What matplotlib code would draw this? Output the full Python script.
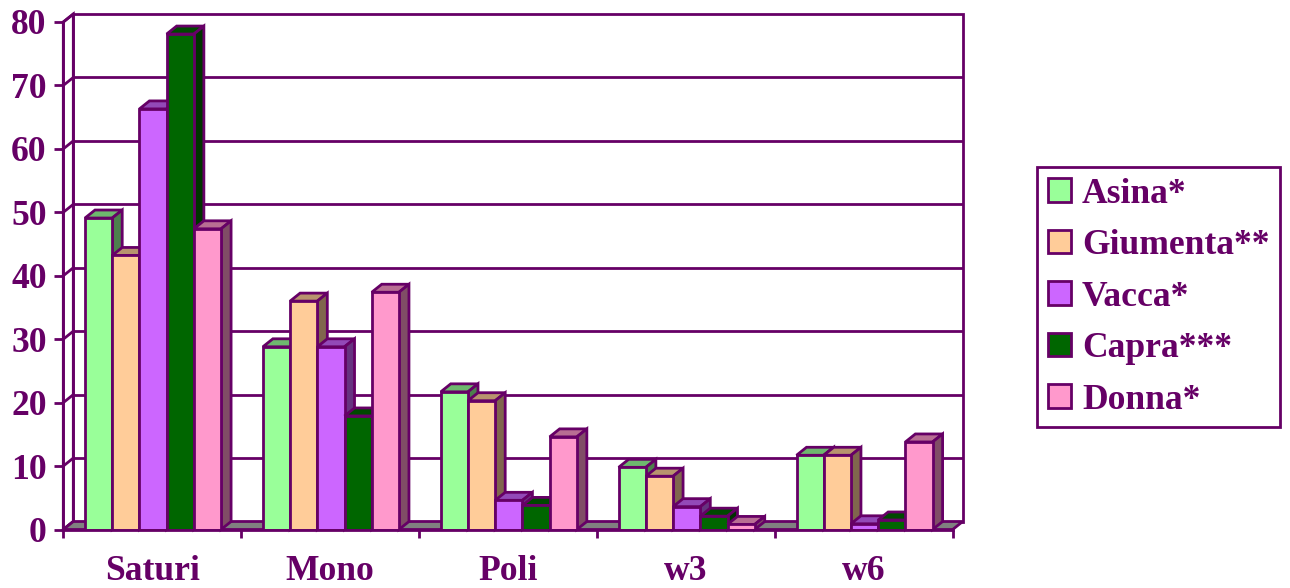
import matplotlib
matplotlib.use("Agg")
import matplotlib.pyplot as plt
from matplotlib.patches import Polygon, Patch
import numpy as np

# --- data -------------------------------------------------------------
categories = ["Saturi", "Mono", "Poli", "w3", "w6"]
series_names = ["Asina*", "Giumenta**", "Vacca*", "Capra***", "Donna*"]
asina = [49.1, 28.8, 21.7, 9.8, 11.7]
giumenta = [43.2, 36.0, 20.3, 8.4, 11.7]
vacca = [66.3, 28.8, 4.6, 3.6, 0.9]
capra = [78.1, 17.9, 3.8, 2.1, 1.5]
donna = [47.4, 37.4, 14.6, 0.8, 13.8]
y_ticks = [0, 10, 20, 30, 40, 50, 60, 70, 80]

series_values = [asina, giumenta, vacca, capra, donna]
colors = ["#99FF99", "#FFCC99", "#CC66FF", "#006600", "#FF99CC"]

PURPLE = "#660066"
FLOOR = "#808080"
LW = 2.0
FONT = dict(family="Liberation Serif", weight="bold", size=25.6)


def shade(hex_color, f):
    c = np.array(matplotlib.colors.to_rgb(hex_color))
    return tuple(c * f)


W, H, DPI = 1290, 588, 100
fig = plt.figure(figsize=(W / DPI, H / DPI), dpi=DPI)

# front plane of the plot box in pixels
x_left, x_right = 63.3, 952.7
y_zero, y_top = 529.5, 22.0
ax = fig.add_axes([x_left / W, 1 - y_zero / H,
                   (x_right - x_left) / W, (y_zero - y_top) / H])
ax.set_xlim(0, len(categories))
ax.set_ylim(0, 80)
ax.set_facecolor("none")

# depth offset of the 3D box, expressed in data units
px_per_cat = (x_right - x_left) / len(categories)
px_per_unit = (y_zero - y_top) / 80
DX = 10.0 / px_per_cat
DY = 8.0 / px_per_unit
n = len(categories)

# back wall with gridlines
back = Polygon([(DX, DY), (n + DX, DY), (n + DX, 80 + DY), (DX, 80 + DY)],
               closed=True, facecolor="white", edgecolor=PURPLE, lw=LW,
               clip_on=False, zorder=1)
ax.add_patch(back)
for v in y_ticks[1:-1]:
    ax.plot([DX, n + DX], [v + DY, v + DY], color=PURPLE, lw=LW,
            clip_on=False, zorder=1.1, solid_capstyle="butt")

# left wall
left = Polygon([(0, 0), (0, 80), (DX, 80 + DY), (DX, DY)], closed=True,
               facecolor="white", edgecolor=PURPLE, lw=LW, clip_on=False,
               zorder=1.2)
ax.add_patch(left)
for v in y_ticks:
    ax.plot([0, DX], [v, v + DY], color=PURPLE, lw=LW, clip_on=False,
            zorder=1.3)

# floor
floor = Polygon([(0, 0), (n, 0), (n + DX, DY), (DX, DY)], closed=True,
                facecolor=FLOOR, edgecolor=PURPLE, lw=LW, clip_on=False,
                zorder=1.4, joinstyle="miter")
ax.add_patch(floor)

# bars
group_start = 0.122
bar_w = 0.153
z = 2.0
for i in range(n):
    for j, vals in enumerate(series_values):
        h = vals[i]
        x0 = i + group_start + j * bar_w
        x1 = x0 + bar_w
        top = Polygon([(x0, h), (x1, h), (x1 + DX, h + DY), (x0 + DX, h + DY)],
                      closed=True, facecolor=shade(colors[j], 0.72),
                      edgecolor=PURPLE, lw=LW, clip_on=False, zorder=z,
                      joinstyle="miter")
        side = Polygon([(x1, 0), (x1 + DX, DY), (x1 + DX, h + DY), (x1, h)],
                       closed=True, facecolor=shade(colors[j], 0.5),
                       edgecolor=PURPLE, lw=LW, clip_on=False, zorder=z,
                       joinstyle="miter")
        ax.add_patch(top)
        ax.add_patch(side)
        ax.bar(x0, h, width=bar_w, align="edge", color=colors[j],
               edgecolor=PURPLE, linewidth=LW, zorder=z + 0.1)
        z += 0.2

# front axes
for s in ["top", "right"]:
    ax.spines[s].set_visible(False)
for s in ["left", "bottom"]:
    ax.spines[s].set_color(PURPLE)
    ax.spines[s].set_linewidth(LW)
    ax.spines[s].set_zorder(50)

ax.set_yticks(y_ticks)
ax.set_yticklabels([str(v) for v in y_ticks], fontdict=FONT, color=PURPLE)
ax.tick_params(axis="y", which="major", direction="out", length=6.5,
               width=LW, color=PURPLE, pad=5.5)

ax.set_xticks(np.arange(n + 1))
ax.set_xticklabels([])
ax.set_xticks(np.arange(n) + 0.5, minor=True)
ax.set_xticklabels(categories, minor=True, fontdict=FONT, color=PURPLE)
ax.tick_params(axis="x", which="major", direction="out", length=6,
               width=LW, color=PURPLE)
ax.tick_params(axis="x", which="minor", length=0, pad=18)

# legend
handles = [Patch(facecolor=c, edgecolor=PURPLE, lw=LW) for c in colors]
leg = fig.legend(handles, series_names, loc="upper left",
                 bbox_to_anchor=(1037.3 / W, 1 - 167 / H),
                 bbox_transform=fig.transFigure, borderaxespad=0,
                 prop=dict(family="Liberation Serif", weight="bold", size=25.6),
                 labelcolor=PURPLE, handlelength=0.646, handleheight=0.646,
                 handletextpad=0.31, labelspacing=0.52, borderpad=0.3,
                 fancybox=False, framealpha=1, edgecolor=PURPLE)
leg.get_frame().set_linewidth(LW)

fig.savefig("out.png", dpi=DPI)
